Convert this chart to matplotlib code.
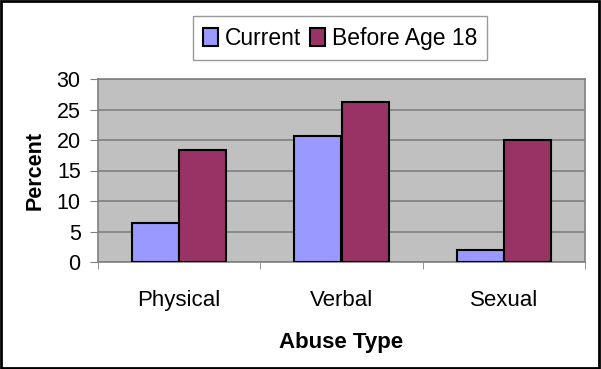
import numpy as np
import matplotlib.pyplot as plt
from matplotlib.patches import Rectangle

plt.rcParams['font.family'] = ['Liberation Sans', 'DejaVu Sans']

categories = ['Physical', 'Verbal', 'Sexual']
current = [6.4, 20.7, 2.0]
before_18 = [18.4, 26.3, 20.0]
yticks = [0, 5, 10, 15, 20, 25, 30]

fig = plt.figure(figsize=(6.01, 3.69), dpi=100)
fig.patches.append(Rectangle((0.002, 0.003), 0.995, 0.993, transform=fig.transFigure,
                             fill=False, edgecolor='black', lw=2))
ax = fig.add_axes([98 / 601, 1 - 262 / 369, 487 / 601, 183 / 369])
ax.set_facecolor('#C0C0C0')

x = np.arange(len(categories))
w = 0.29
ax.bar(x - w / 2, current, w, color='#9999FF', edgecolor='black', lw=1.5,
       label='Current', zorder=3)
ax.bar(x + w / 2, before_18, w, color='#993366', edgecolor='black', lw=1.5,
       label='Before Age 18', zorder=3)

ax.set_xlim(-0.5, len(categories) - 0.5)
ax.set_ylim(0, 30)
ax.set_yticks(yticks)
ax.tick_params(axis='y', labelsize=15.5, length=6, color='#808080', pad=6.5)
ax.set_xticks(x)
ax.set_xticklabels(categories)
ax.tick_params(axis='x', labelsize=16, length=0, pad=20)
ax.set_xticks(np.arange(-0.5, len(categories)), minor=True)
ax.tick_params(axis='x', which='minor', length=5, color='#808080')
ax.grid(axis='y', color='#808080', lw=1.2, zorder=1)
for s in ax.spines.values():
    s.set_color('#808080')
    s.set_linewidth(1.2)

ax.set_ylabel('Percent', fontsize=15.5, fontweight='bold', labelpad=8)
ax.set_xlabel('Abuse Type', fontsize=16, fontweight='bold', labelpad=15)

fig.legend(loc='upper center', bbox_to_anchor=(340 / 601, 1 - 5 / 369), ncol=2,
           fontsize=16.5, frameon=True, fancybox=False, edgecolor='#808080',
           handlelength=0.65, handleheight=0.8, handletextpad=0.3,
           columnspacing=0.4, borderpad=0.45)

fig.savefig('out.png', dpi=100)
